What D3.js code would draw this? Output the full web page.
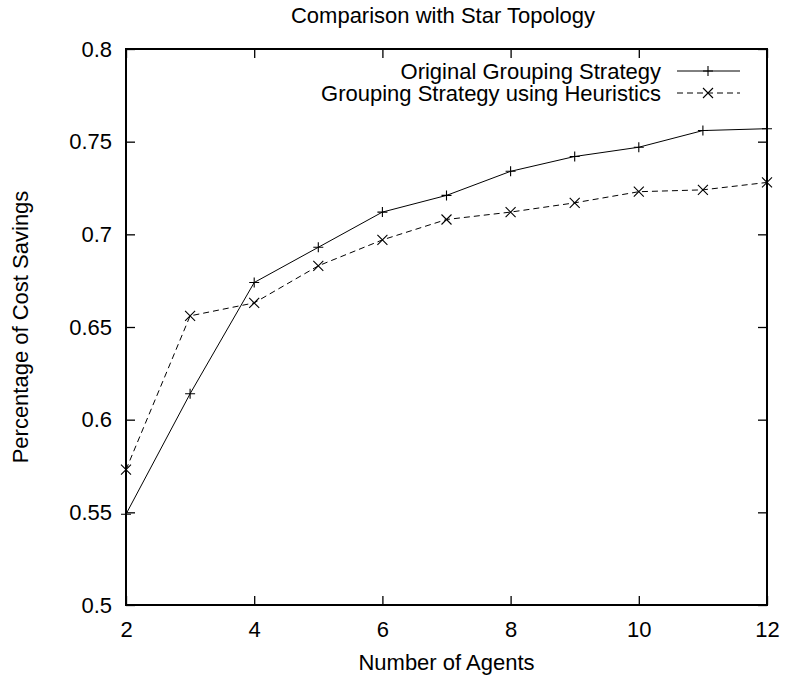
<!DOCTYPE html>
<html>
<head>
<meta charset="utf-8">
<script src="https://cdn.jsdelivr.net/npm/d3@7"></script>
<style>
body { margin: 0; background: #fff; }
svg text { font-family: "Liberation Sans", Arial, sans-serif; fill: #000; }
</style>
</head>
<body>
<svg id="chart" width="786" height="677"></svg>
<script>
var agents = [2, 3, 4, 5, 6, 7, 8, 9, 10, 11, 12];
var original = [0.549, 0.614, 0.674, 0.693, 0.712, 0.721, 0.734, 0.742, 0.747, 0.756, 0.757];
var heuristic = [0.573, 0.656, 0.663, 0.683, 0.697, 0.708, 0.712, 0.717, 0.723, 0.724, 0.728];
var xTicks = [2, 4, 6, 8, 10, 12];
var yTicks = [0.5, 0.55, 0.6, 0.65, 0.7, 0.75, 0.8];
var seriesNames = ["Original Grouping Strategy", "Grouping Strategy using Heuristics"];

var svg = d3.select("#chart");
var margin = {top: 49, right: 19, bottom: 72, left: 126};
var width = 786 - margin.left - margin.right,
	height = 677 - margin.top - margin.bottom;
var fontSize = "22px";

var x = d3.scaleLinear().domain([2, 12]).range([0, width]);
var y = d3.scaleLinear().domain([0.5, 0.8]).range([height, 0]);

var g = svg.append("g").attr("transform", "translate(" + margin.left + "," + margin.top + ")");

// inward ticks on all four sides, gnuplot style
var tickLen = 9;
g.append("g").attr("transform", "translate(0," + height + ")")
	.call(d3.axisBottom(x).tickValues(xTicks).tickSize(-tickLen).tickPadding(tickLen + 7).tickFormat(d3.format("d")))
	.call(styleAxis);
g.append("g")
	.call(d3.axisTop(x).tickValues(xTicks).tickSize(-tickLen).tickFormat(""))
	.call(styleAxis);
g.append("g")
	.call(d3.axisLeft(y).tickValues(yTicks).tickSize(-tickLen).tickPadding(tickLen + 5).tickFormat(function(d){ return String(+d.toFixed(2)); }))
	.call(styleAxis);
g.append("g").attr("transform", "translate(" + width + ",0)")
	.call(d3.axisRight(y).tickValues(yTicks).tickSize(-tickLen).tickFormat(""))
	.call(styleAxis);

function styleAxis(sel){
	sel.select(".domain").remove();
	sel.selectAll(".tick line").attr("stroke", "#000").attr("stroke-width", 1.3);
	sel.selectAll(".tick text").style("font-size", fontSize).attr("fill", "#000");
}

g.append("rect")
	.attr("width", width).attr("height", height)
	.attr("fill", "none").attr("stroke", "#000").attr("stroke-width", 2);

var line = d3.line()
	.x(function(d){ return x(d[0]); })
	.y(function(d){ return y(d[1]); });

var series = [
	{name: seriesNames[0], values: d3.zip(agents, original), dash: null, marker: "plus"},
	{name: seriesNames[1], values: d3.zip(agents, heuristic), dash: "6,4", marker: "cross"}
];

function marker(sel, type, cx, cy){
	var s = 5;
	var d = type == "plus"
		? "M" + (cx - s) + "," + cy + "H" + (cx + s) + "M" + cx + "," + (cy - s) + "V" + (cy + s)
		: "M" + (cx - s) + "," + (cy - s) + "L" + (cx + s) + "," + (cy + s) + "M" + (cx - s) + "," + (cy + s) + "L" + (cx + s) + "," + (cy - s);
	sel.append("path").attr("d", d).attr("stroke", "#000").attr("stroke-width", 1.1).attr("fill", "none");
}

series.forEach(function(s){
	g.append("path")
		.datum(s.values)
		.attr("d", line)
		.attr("fill", "none")
		.attr("stroke", "#000")
		.attr("stroke-width", 1)
		.attr("stroke-dasharray", s.dash);
	var mg = g.append("g");
	s.values.forEach(function(v){ marker(mg, s.marker, x(v[0]), y(v[1])); });
});

// legend
var legend = svg.append("g");
series.forEach(function(s, i){
	var ly = 71 + i * 22;
	legend.append("text")
		.attr("x", 661).attr("y", ly)
		.attr("dy", "0.35em")
		.attr("text-anchor", "end")
		.style("font-size", fontSize)
		.text(s.name);
	legend.append("line")
		.attr("x1", 677).attr("x2", 740)
		.attr("y1", ly).attr("y2", ly)
		.attr("stroke", "#000").attr("stroke-width", 1)
		.attr("stroke-dasharray", s.dash);
	marker(legend, s.marker, 708, ly);
});

svg.append("text")
	.attr("x", 443).attr("y", 15)
	.attr("dy", "0.35em")
	.attr("text-anchor", "middle")
	.style("font-size", fontSize)
	.text("Comparison with Star Topology");

svg.append("text")
	.attr("x", margin.left + width / 2).attr("y", 662)
	.attr("dy", "0.35em")
	.attr("text-anchor", "middle")
	.style("font-size", fontSize)
	.text("Number of Agents");

svg.append("text")
	.attr("transform", "translate(20," + (margin.top + height / 2) + ") rotate(-90)")
	.attr("dy", "0.35em")
	.attr("text-anchor", "middle")
	.style("font-size", fontSize)
	.text("Percentage of Cost Savings");
</script>
</body>
</html>
